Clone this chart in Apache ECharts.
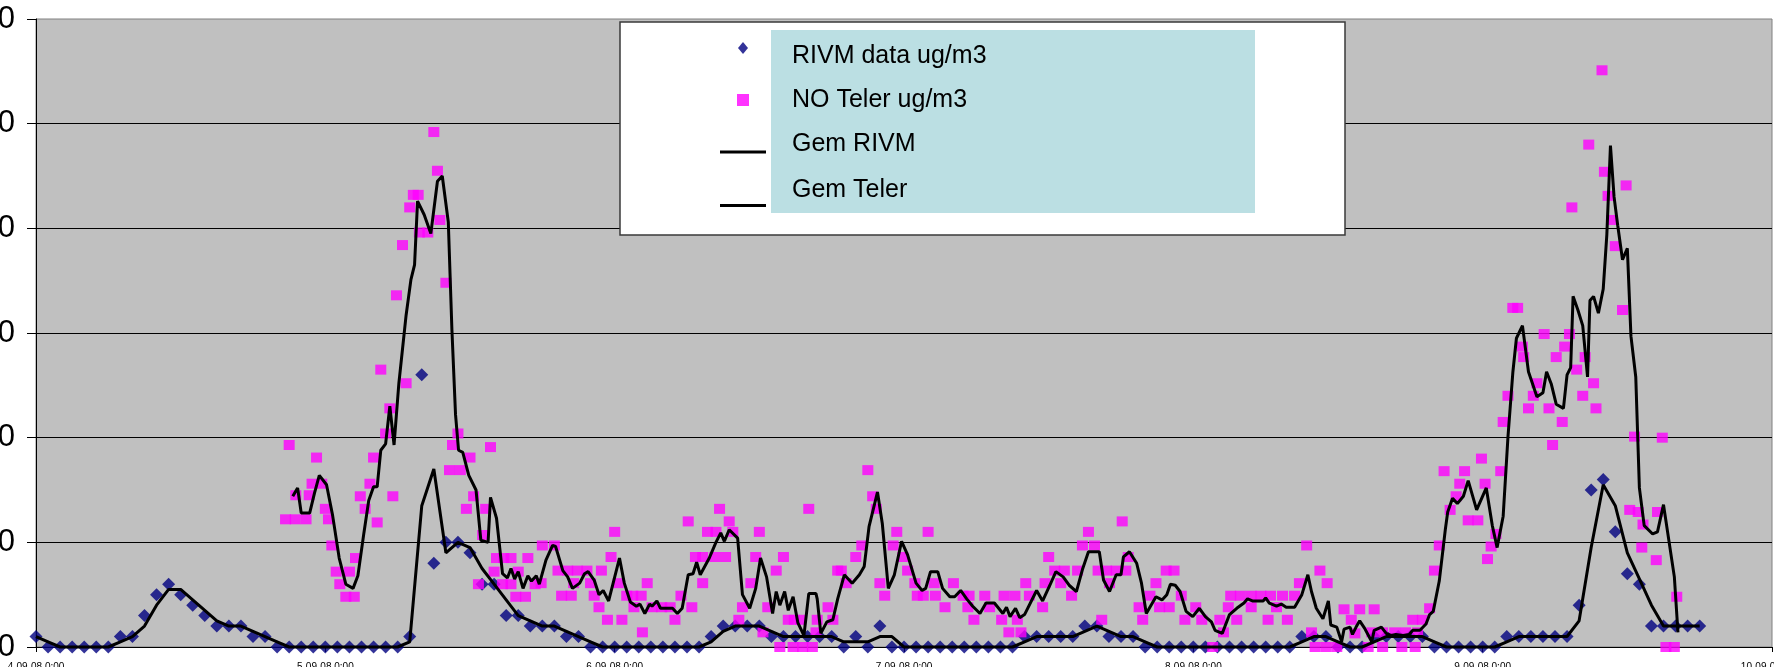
<!DOCTYPE html>
<html><head><meta charset="utf-8">
<script src="https://cdn.jsdelivr.net/npm/echarts@6/dist/echarts.min.js"></script>
<style>html,body{margin:0;padding:0;background:#fff}#chart{width:1774px;height:667px}</style>
</head><body><div id="chart"></div>
<script>
// x axis: hours since 4-09-08 0:00
const xTickLabels = ['4-09-08 0:00','5-09-08 0:00','6-09-08 0:00','7-09-08 0:00','8-09-08 0:00','9-09-08 0:00','10-09-08 0:00'];
const xMaxHours = 144, xStepHours = 24;
const yMax = 60, yStep = 10;

// RIVM data ug/m3, hourly from 4-09-08 0:00
const rivmValues = [
 1,0,0,0,0,0,0,1,1,3,5,6,5,4,3,2,2,2,1,1,
 0,0,0,0,0,0,0,0,0,0,0,
 1,26,8,10,10,9,6,6,3,3,2,2,2,1,1,
 0,0,0,0,0,0,0,0,0,0,
 1,2,2,2,2,
 1,1,1,1,1,1,
 0,1,0,2,
 0,0,0,0,0,0,0,0,0,0,0,
 1,1,1,1,1,
 2,2,
 1,1,1,
 0,0,0,0,0,0,0,0,0,0,0,0,0,
 1,1,1,
 0,0,0,
 1,1,1,1,1,
 0,0,0,0,0,0,
 1,1,1,1,1,1,
 4,15,16,11,7,6,
 2,2,2,2,2
];

// Gem RIVM, hourly from 4-09-08 0:00
const gemRivmValues = [
 1,0.5,0,0,0,0,0,0.5,1,2,4,5.5,5.5,4.5,3.5,2.5,2,2,1.5,1,
 0.5,0,0,0,0,0,0,0,0,0,0,
 0.5,13.5,17,9,10,9.5,7.5,6,4.5,3,2.5,2,2,1.5,1,
 0.5,0,0,0,0,0,0,0,0,0,
 0.5,1.5,2,2,2,
 1.5,1,1,1,1,1,
 0.5,0.5,0.5,1,
 1,0,0,0,0,0,0,0,0,0,0,
 0.5,1,1,1,1,
 1.5,2,
 1.5,1,1,
 0.5,0,0,0,0,0,0,0,0,0,0,0,0,
 0.5,1,1,
 0.5,0,0,
 0.5,1,1,1,1,
 0.5,0,0,0,0,0,
 0.5,1,1,1,1,1,
 2.5,9.5,15.5,13.5,9,6.5,
 4,2,2,2,2
];

// NO Teler ug/m3 (hours since 4-09-08 0:00, value)
const telerHours = [
 20.7,21.0,21.5,21.55,22.4,22.66,22.9,23.27,23.7,24.0,24.26,24.54,24.9,25.2,25.7,26.0,26.4,26.5,26.9,27.3,
 27.7,28.0,28.3,28.6,29.0,29.35,29.6,29.9,30.4,30.7,31.0,31.3,31.7,31.8,32.5,33.0,33.3,33.5,34.0,34.3,
 34.55,35.0,35.2,35.7,36.0,36.3,36.7,37.05,37.3,37.7,38.0,38.2,38.7,38.8,39.4,39.4,39.8,40.0,40.6,40.8,
 41.4,41.9,42.0,43.0,43.3,43.6,44.1,44.4,44.6,44.9,45.7,46.0,46.3,46.7,46.9,47.4,47.7,48.0,48.3,48.6,
 49.0,49.5,49.6,50.2,50.3,50.7,51.1,51.9,52.6,53.0,53.5,54.1,54.4,54.7,55.3,55.3,55.7,56.3,56.4,56.7,
 57.2,57.5,57.8,58.3,58.6,59.3,59.7,60.0,60.3,60.7,61.4,61.7,62.0,62.4,62.8,62.9,63.4,63.6,64.1,64.4,
 64.7,64.8,65.7,66.1,66.5,66.8,67.2,68.0,68.5,69.0,69.4,69.7,70.0,70.4,71.1,71.4,71.9,72.3,72.9,73.1,
 73.6,74.0,74.5,74.6,75.4,76.1,76.9,77.3,77.4,77.8,78.7,79.1,80.1,80.3,80.7,81.2,81.4,81.7,82.1,82.4,
 83.5,83.7,84.0,84.5,85.0,85.3,85.9,86.4,86.8,87.3,87.8,88.1,88.4,88.8,89.05,89.6,90.1,90.4,90.6,91.5,
 91.8,92.4,92.9,93.2,93.75,94.0,94.4,95.0,95.3,96.2,96.7,97.6,98.2,98.5,98.9,99.1,99.6,99.9,100.8,100.8,
 101.6,102.2,102.4,102.9,103.4,103.8,104.4,104.8,105.4,105.8,106.1,106.5,107.0,107.1,107.9,108.5,109.1,109.4,109.8,110.5,
 110.8,111.0,111.7,111.7,112.7,113.3,113.6,114.2,114.4,114.6,115.0,115.6,116.0,116.4,116.8,117.3,117.8,118.1,118.5,118.8,
 119.6,119.9,120.2,120.4,120.7,121.1,121.5,121.7,122.1,122.5,122.9,123.3,123.4,123.8,124.2,124.5,125.1,125.5,125.8,126.1,
 126.6,126.8,127.2,127.4,127.8,128.3,128.5,128.8,129.2,129.4,129.9,130.1,130.4,130.7,131.0,131.6,131.9,132.2,132.6,132.9,
 133.2,133.3,134.4,134.5,134.9,135.2,135.9,136.1
];
const telerValues = [
 12.2,19.3,12.2,14.5,12.2,14.5,15.6,18.1,15.6,13.2,12.2,9.7,7.2,6.0,4.8,7.2,4.8,8.5,14.4,13.2,
 15.6,18.1,11.9,26.5,20.4,22.8,14.4,33.6,38.4,25.2,42.0,43.2,43.2,39.6,39.6,49.2,45.5,40.8,34.8,16.9,
 19.3,20.4,16.9,13.2,18.1,14.4,6.0,10.7,13.2,19.1,7.2,8.5,6.0,8.5,8.5,6.0,4.8,7.2,4.8,8.5,
 6.0,6.1,9.7,9.7,7.3,4.9,7.3,4.9,6.1,7.3,7.3,6.1,4.9,3.8,7.3,2.6,8.6,11.0,6.1,2.6,
 4.9,4.9,3.8,4.9,1.4,6.1,3.8,3.8,3.8,2.6,4.9,12.0,3.8,8.6,8.6,6.1,11.0,8.6,11.0,13.2,
 8.6,12.0,11.0,2.6,3.8,6.1,8.6,11.0,1.4,3.8,7.3,0,8.6,2.6,0,2.6,2.6,0,13.2,0,
 1.4,2.6,3.8,2.6,7.3,7.3,6.1,8.6,9.7,16.9,14.4,13.2,6.1,4.9,9.7,11.0,8.6,7.3,6.1,4.9,
 4.9,11.0,6.1,4.9,3.8,6.1,4.9,3.8,4.9,2.6,4.9,3.8,2.6,4.9,1.4,4.9,2.6,1.4,6.1,4.9,
 3.8,6.1,8.6,7.3,6.1,7.3,4.9,7.3,9.7,11.0,9.7,7.3,2.6,7.3,6.1,7.3,12.0,7.3,8.6,3.8,
 2.6,4.9,6.1,3.8,7.3,3.8,7.3,4.9,2.6,3.8,2.6,0,2.6,1.4,3.8,4.9,2.6,4.9,4.9,3.8,
 4.9,2.6,4.9,3.8,4.9,2.6,4.9,6.1,9.7,1.4,0,7.3,0,6.1,0,3.6,2.6,1.3,3.6,0,
 1.4,3.6,1.4,0,1.4,0,1.4,2.6,0,1.4,2.6,3.7,7.3,9.7,16.8,13.1,14.4,15.6,16.8,12.1,
 12.1,18.0,15.6,8.4,9.6,10.8,16.8,21.5,24.0,32.4,32.4,28.7,27.7,22.8,24.0,25.2,29.9,22.8,19.3,27.7,
 21.5,28.7,29.9,42.0,26.5,24.0,27.7,48.0,25.2,22.8,55.1,45.4,43.1,40.8,38.3,32.2,44.1,13.1,20.1,12.9,
 9.5,11.7,8.3,12.9,20.0,0,0,4.8
];

// Gem Teler (hours since 4-09-08 0:00, value)
const gemTelerHours = [
 21.3,21.7,22.0,22.7,23.1,23.5,24.1,24.6,25.15,25.7,26.3,26.7,27.2,27.6,28.0,28.3,28.6,29.0,29.35,29.7,
 30.1,30.7,31.1,31.4,31.65,32.2,32.75,33.3,33.7,34.2,34.5,34.8,35.05,35.4,35.9,36.5,36.9,37.5,37.7,38.2,
 38.7,39.1,39.4,39.7,40.0,40.4,40.8,41.1,41.5,41.75,42.3,42.85,43.1,43.7,44.1,44.5,45.1,45.5,45.8,46.3,
 46.7,47.05,47.5,48.4,48.8,49.3,49.8,50.1,50.5,50.9,51.1,51.5,51.8,52.8,53.2,53.6,54.1,54.5,54.8,55.1,
 55.85,56.4,56.8,57.1,57.5,58.2,58.6,59.2,59.7,60.1,60.6,61.1,61.4,61.7,62.1,62.4,62.8,63.2,63.7,64.1,
 64.7,64.8,65.1,65.6,66.1,66.5,67.05,67.7,68.3,68.7,69.1,69.8,70.2,70.7,71.2,71.8,72.3,73.0,73.5,73.8,
 74.2,74.8,75.2,75.8,76.2,76.7,77.2,77.7,78.3,78.8,79.5,80.2,80.5,80.8,81.25,81.6,82.0,83.0,83.5,84.1,
 84.6,85.2,85.7,86.3,86.8,87.3,88.2,88.55,89.05,89.6,90.0,90.2,90.7,91.3,91.7,92.1,92.9,93.4,93.8,94.1,
 94.5,94.9,95.4,95.95,96.5,97.0,97.5,97.8,98.4,99.0,99.6,100.2,100.5,100.9,101.8,102.0,102.3,102.9,103.3,103.7,
 104.4,105.0,105.5,105.8,106.2,106.75,107.2,107.4,107.9,108.3,108.5,109.0,109.2,109.5,109.8,110.2,110.8,111.0,111.6,112.0,
 112.4,112.8,113.4,113.9,114.2,114.8,115.3,115.6,115.9,116.4,116.9,117.1,117.5,117.9,118.4,118.8,119.5,120.3,120.8,121.2,
 121.7,122.1,122.5,122.8,123.3,123.8,124.5,125.0,125.3,125.7,126.1,126.7,127.0,127.3,127.5,127.9,128.3,128.7,128.9,129.2,
 129.6,130.0,130.3,130.6,130.9,131.2,131.6,132.0,132.3,132.7,133.0,133.4,134.1,134.5,135.0,135.9,136.2
];
const gemTelerValues = [
 14.4,15.2,12.8,12.8,14.7,16.4,15.5,12.6,8.5,6.0,5.6,6.8,10.9,14.0,15.3,15.3,18.8,19.4,23.0,19.3,
 25.2,31.7,35.1,36.5,42.6,41.3,39.5,44.5,45.0,40.6,30.3,22.2,18.8,18.6,16.4,15.0,10.2,10.0,14.3,12.3,
 7.0,6.6,7.5,6.5,7.2,5.6,6.8,6.3,6.8,6.0,8.3,9.7,9.6,7.3,6.7,5.6,6.1,7.0,7.2,6.4,
 5.0,5.4,4.4,8.5,6.1,4.3,3.9,4.1,3.2,4.1,3.9,4.4,3.7,3.7,3.2,3.7,6.9,7.0,8.1,6.9,
 8.5,10.0,10.9,10.1,11.2,10.4,5.0,3.7,5.6,8.5,6.7,3.2,5.3,4.0,5.3,3.5,4.8,2.3,1.1,5.1,
 5.1,4.6,1.3,2.4,2.6,4.6,6.9,6.1,6.9,7.7,11.5,14.8,11.8,5.6,6.9,10.1,8.8,6.1,5.4,5.6,
 7.2,7.2,5.6,4.8,4.8,5.4,4.6,3.9,3.2,4.2,4.2,3.2,3.8,2.9,3.7,2.8,3.1,5.4,4.4,5.9,
 7.2,6.7,5.9,5.3,7.4,9.1,9.1,6.4,5.3,6.9,6.9,8.6,9.1,8.0,6.1,3.2,4.8,4.5,5.0,6.0,
 5.9,5.3,3.4,2.9,3.7,2.9,2.4,1.6,1.3,3.1,3.7,4.2,4.6,4.4,4.4,4.7,4.2,3.9,4.1,3.8,
 3.8,5.0,6.9,5.3,3.7,2.7,4.4,2.1,1.9,0.5,1.7,1.9,1.2,1.9,2.5,1.8,0.5,1.6,1.9,1.3,
 1.1,1.2,1.1,1.2,1.6,1.6,2.2,3.1,3.4,6.3,11.2,12.9,14.2,13.7,14.4,15.9,13.1,15.2,11.6,9.5,
 12.5,20.1,26.2,29.5,30.7,26.3,23.9,24.3,26.3,25.1,23.2,22.8,26.0,26.7,33.5,32.2,30.7,25.8,33.1,33.5,
 31.9,34.2,39.4,47.9,43.0,40.3,37.0,38.1,29.7,25.8,15.2,11.6,10.8,11.0,13.6,6.7,1.4
];

const FONT = 'Liberation Sans, Arial, sans-serif';
const LINE_ICON = 'path://M0,0H46V3H0Z';
const DIAMOND_ICON = 'path://M5,0L10,6L5,12L0,6Z';
const SQUARE_ICON = 'path://M0,0H11V11H0Z';
const CLEAR = 'rgba(0,0,0,0)';
// vertical spacer heights (above, below) around each legend label
const legendSpacers = {
  'RIVM data ug/m3': [22, 6],
  'NO Teler ug/m3': [14, 14],
  'Gem RIVM': [6, 22],
  'Gem Teler': [0, 30]
};
const spacerRich = {};
[0, 6, 14, 22, 30].forEach(h => { spacerRich['s' + h] = {lineHeight: h, height: h, fontSize: 1}; });

const chart = echarts.init(document.getElementById('chart'), null, {renderer: 'canvas'});
chart.setOption({
  animation: false,
  backgroundColor: '#ffffff',
  grid: {left: 36, right: 2, top: 19, bottom: 20, containLabel: false, outerBoundsMode: 'none',
         show: true, backgroundColor: '#c0c0c0', borderColor: '#808080', borderWidth: 1},
  xAxis: {
    type: 'value', min: 0, max: xMaxHours, interval: xStepHours,
    axisLine: {onZero: false, lineStyle: {color: '#000', width: 1}},
    axisTick: {show: true, length: 5, lineStyle: {color: '#000'}},
    axisLabel: {fontSize: 10, fontFamily: FONT, color: '#000', margin: 15,
                showMinLabel: true, showMaxLabel: true, hideOverlap: false,
                formatter: v => xTickLabels[Math.round(v / xStepHours)] || ''},
    splitLine: {show: false}
  },
  yAxis: {
    type: 'value', min: 0, max: yMax, interval: yStep,
    axisLine: {show: true, lineStyle: {color: '#000', width: 1}},
    axisTick: {show: true, length: 9, lineStyle: {color: '#000'}},
    axisLabel: {fontSize: 31, fontFamily: FONT, color: '#000', margin: 21},
    splitLine: {show: true, showMaxLine: false, lineStyle: {color: '#000', width: 1}}
  },
  graphic: [
    {type: 'rect', z: 3, shape: {x: 620, y: 22, width: 725, height: 213},
     style: {fill: '#ffffff', stroke: '#3a3a3a', lineWidth: 1.5}},
    {type: 'rect', z: 3, shape: {x: 771, y: 30, width: 484, height: 183},
     style: {fill: '#bbdfe3'}}
  ],
  legend: {
    orient: 'vertical', left: 720, top: 22, padding: 0,
    itemGap: 0, itemWidth: 46, itemHeight: 12, selectedMode: false, symbolKeepAspect: true,
    backgroundColor: CLEAR,
    formatter: name => {
      const [a, b] = legendSpacers[name];
      let s = '';
      if (a) s += '{s' + a + '| }\n';
      s += '{t|' + name + '}';
      if (b) s += '\n{s' + b + '| }';
      return s;
    },
    textStyle: {fontSize: 25, fontFamily: FONT, color: '#000', backgroundColor: CLEAR,
                padding: [0, 0, 0, 21],
                rich: Object.assign({t: {fontSize: 25, fontFamily: FONT, color: '#000', lineHeight: 24}}, spacerRich)},
    data: [
      {name: 'RIVM data ug/m3', icon: DIAMOND_ICON},
      {name: 'NO Teler ug/m3', icon: SQUARE_ICON},
      {name: 'Gem RIVM', icon: LINE_ICON},
      {name: 'Gem Teler', icon: LINE_ICON}
    ]
  },
  series: [
    {name: 'RIVM data ug/m3', type: 'scatter', symbol: 'diamond', symbolSize: 13,
     itemStyle: {color: '#000080'}, data: rivmValues.map((v, i) => [i, v])},
    {name: 'NO Teler ug/m3', type: 'scatter', symbol: 'rect', symbolSize: [11, 10],
     itemStyle: {color: '#ff00ff'}, data: telerHours.map((h, i) => [h, telerValues[i]])},
    {name: 'Gem RIVM', type: 'line', symbol: 'none', clip: false,
     lineStyle: {color: '#000', width: 3}, itemStyle: {color: '#000'},
     data: gemRivmValues.map((v, i) => [i, v])},
    {name: 'Gem Teler', type: 'line', symbol: 'none', clip: false,
     lineStyle: {color: '#000', width: 3}, itemStyle: {color: '#000'},
     data: gemTelerHours.map((h, i) => [h, gemTelerValues[i]])}
  ]
});
</script>
</body></html>
